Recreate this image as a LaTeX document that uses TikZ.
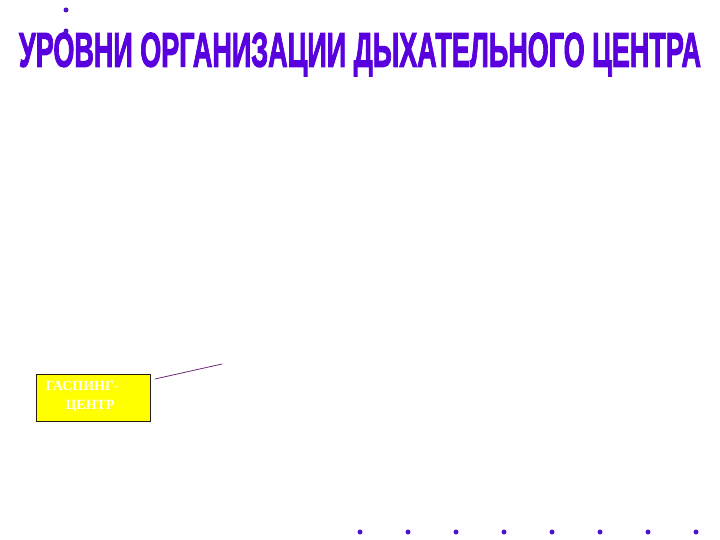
\documentclass[tikz,border=0pt]{standalone}
\usepackage{fontspec}
\setmainfont{Liberation Serif}
\newfontfamily\titlefont[FakeBold=2.5]{Liberation Sans Bold}
\definecolor{titlecol}{RGB}{88,0,222}
\definecolor{dotcol}{RGB}{80,20,200}
\definecolor{boxfill}{RGB}{255,255,0}
\definecolor{linecol}{RGB}{110,40,120}
\tikzset{
  px/.style={x=1pt,y=-1pt},
  dotmark/.style={circle,fill=dotcol,inner sep=0pt,minimum size=5pt},
  titlestyle/.style={inner sep=0pt,text=titlecol},
  gasbox/.style={draw=black!80!brown,fill=boxfill,line width=0.8pt,minimum width=114pt,minimum height=47pt,inner sep=0pt},
  boxtext/.style={text=white,font=\bfseries\fontsize{14}{16}\selectfont},
  leader/.style={draw=linecol,line width=0.8pt}
}
\begin{document}
\begin{tikzpicture}[px]
\useasboundingbox (0,0) rectangle (720,540);
\node[titlestyle] (title) at (360,54.5) {\resizebox{682pt}{34pt}{\titlefont УРОВНИ ОРГАНИЗАЦИИ ДЫХАТЕЛЬНОГО ЦЕНТРА}};
\node[dotmark] (d1) at (66,10) {};
\node[dotmark] (d2) at (66,31) {};
\node[gasbox] (box) at (93,397.5) {};
\node[boxtext,anchor=west] (t1) at (42,386) {ГАСПИНГ-};
\node[boxtext,anchor=west] (t2) at (62,406) {ЦЕНТР};
\coordinate (lend) at (222,364);
\coordinate (lstart) at (155,379);
\draw[leader] (lstart) -- (lend);
\foreach \i/\x in {1/360,2/408,3/456,4/504,5/552,6/600,7/648,8/696}
  \node[dotmark] (b\i) at (\x,532) {};
\end{tikzpicture}
\end{document}
